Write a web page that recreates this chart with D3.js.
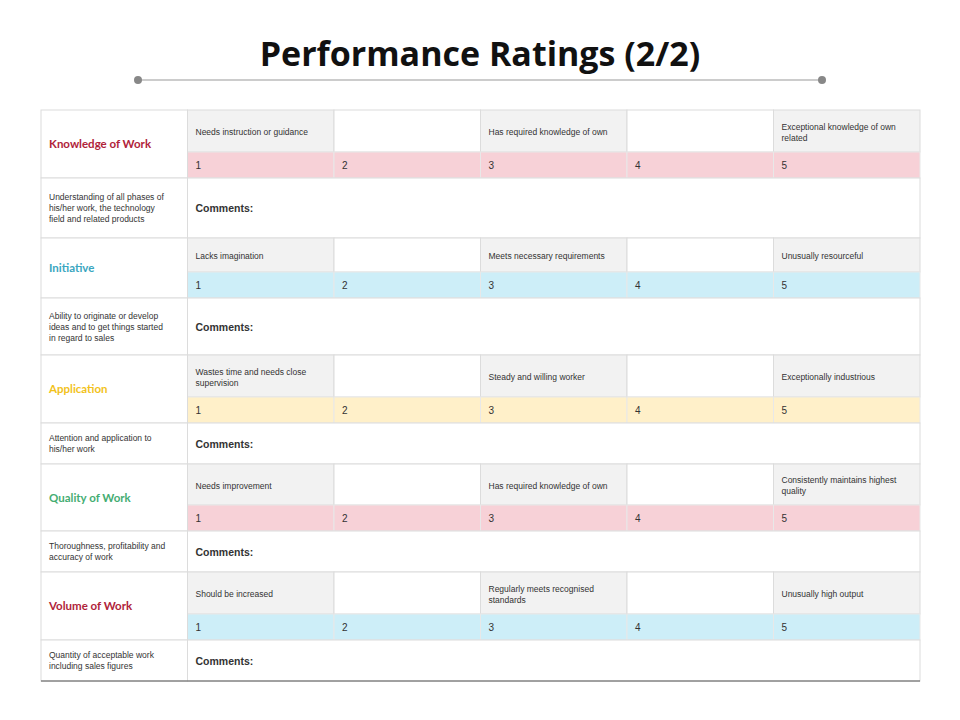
<!DOCTYPE html>
<html><head><meta charset="utf-8">
<script src="https://cdn.jsdelivr.net/npm/d3@7"></script>
<style>body{margin:0;background:#fff}</style></head>
<body><svg id="c" width="960" height="720"></svg>
<script>
const title = "Performance Ratings (2/2)";
const categories = ["Knowledge of Work","Initiative","Application","Quality of Work","Volume of Work"];
const catColors = ["#b0233a","#3aa6c0","#f2c21b","#45ad72","#b0233a"];
const bandColors = ["#f7d1d7","#cdeef8","#fff0c9","#f7d1d7","#cdeef8"];
const explanations = [
 ["Understanding of all phases of","his/her work, the technology","field and related products"],
 ["Ability to originate or develop","ideas and to get things started","in regard to sales"],
 ["Attention and application to","his/her work"],
 ["Thoroughness,  profitability and","accuracy of work"],
 ["Quantity of acceptable work","including sales figures"]];
const descriptors = [
 [["Needs instruction or guidance"],[],["Has required knowledge of own"],[],["Exceptional knowledge of own","related"]],
 [["Lacks imagination"],[],["Meets necessary requirements"],[],["Unusually resourceful"]],
 [["Wastes time and needs close","supervision"],[],["Steady and willing worker"],[],["Exceptionally industrious"]],
 [["Needs improvement"],[],["Has required knowledge of own"],[],["Consistently maintains highest","quality"]],
 [["Should be increased"],[],["Regularly meets recognised","standards"],[],["Unusually high output"]]];
const ratings = [1,2,3,4,5];
const blockTops = [110,238,355,464,572,681];
const descH = [42,34,42,41,42];
const rateH = 26;

const svg = d3.select("#c");
svg.append("text").attr("x",480).attr("y",66).attr("text-anchor","middle")
 .attr("font-family","'Open Sans', sans-serif").attr("font-weight","bold").attr("font-size",34).attr("fill","#111").text(title);
svg.append("line").attr("x1",138).attr("x2",822).attr("y1",80).attr("y2",80).attr("stroke","#999").attr("stroke-width",1.2);
[138,822].forEach(x=>svg.append("circle").attr("cx",x).attr("cy",80).attr("r",4).attr("fill","#888"));

const colX = d3.scaleLinear().domain([0,6]).range([41,920]);
const cw = colX(1)-colX(0);
const F = "Arial, 'Liberation Sans', sans-serif";
const line = "#dcdcdc";

categories.forEach((cat,i)=>{
  const t = blockTops[i], dh = descH[i], rt = t+dh, ct = rt+rateH, end = blockTops[i+1];
  for(let c=0;c<5;c++){
    svg.append("rect").attr("x",colX(c+1)).attr("y",t).attr("width",cw).attr("height",dh)
      .attr("fill",c%2===0?"#f2f2f2":"#fff").attr("stroke",line);
    const lines = descriptors[i][c];
    lines.forEach((l,k)=>svg.append("text").attr("x",colX(c+1)+8)
      .attr("y",t+dh/2+4+(k-(lines.length-1)/2)*11).attr("font-family",F).attr("font-size",8.5).attr("fill","#333").text(l));
    svg.append("rect").attr("x",colX(c+1)).attr("y",rt).attr("width",cw).attr("height",rateH)
      .attr("fill",bandColors[i]).attr("stroke","#e8e8e8");
    svg.append("text").attr("x",colX(c+1)+8).attr("y",rt+rateH/2+4).attr("font-family",F).attr("font-size",10).attr("fill","#333").text(ratings[c]);
  }
  svg.append("rect").attr("x",colX(0)).attr("y",t).attr("width",cw).attr("height",ct-t).attr("fill","#fff").attr("stroke",line);
  svg.append("text").attr("x",colX(0)+8).attr("y",(t+ct)/2+4).attr("font-family","Lato, sans-serif").attr("font-weight","bold")
    .attr("font-size",11.5).attr("fill",catColors[i]).text(cat);
  svg.append("rect").attr("x",colX(0)).attr("y",ct).attr("width",cw).attr("height",end-ct).attr("fill","#fff").attr("stroke",line);
  svg.append("rect").attr("x",colX(1)).attr("y",ct).attr("width",colX(6)-colX(1)).attr("height",end-ct).attr("fill","#fff").attr("stroke",line);
  const ex = explanations[i];
  ex.forEach((l,k)=>svg.append("text").attr("x",colX(0)+8).attr("y",(ct+end)/2+3+(k-(ex.length-1)/2)*11)
    .attr("font-family",F).attr("font-size",8.5).attr("fill","#333").text(l));
  svg.append("text").attr("x",colX(1)+8).attr("y",(ct+end)/2+4).attr("font-family",F).attr("font-weight","bold")
    .attr("font-size",10.5).attr("fill","#333").text("Comments:");
});
svg.append("line").attr("x1",41).attr("x2",920).attr("y1",681).attr("y2",681).attr("stroke","#555").attr("stroke-width",1.2);
</script></body></html>
